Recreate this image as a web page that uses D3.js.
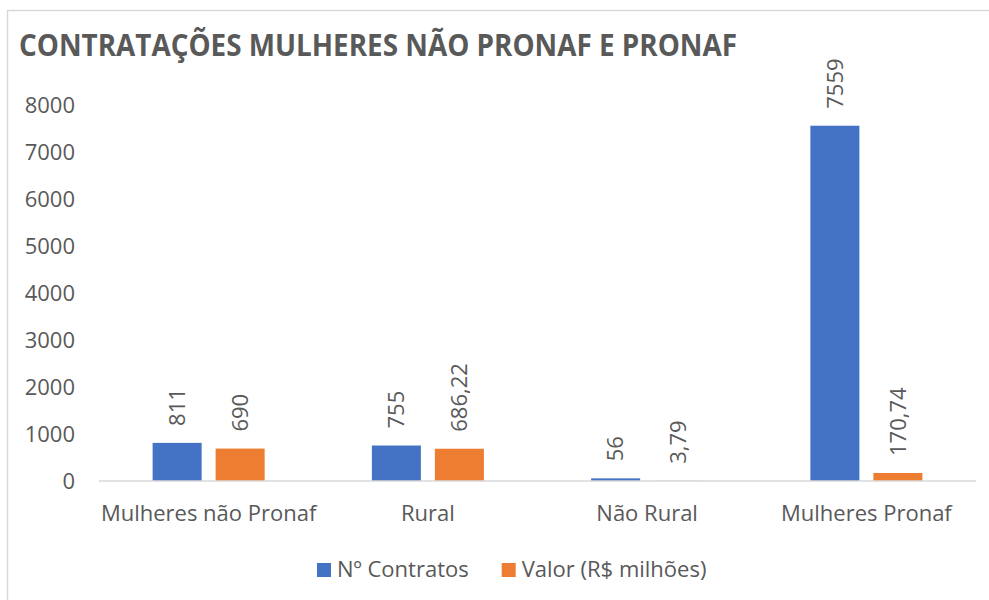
<!DOCTYPE html>
<html lang="pt">
<head>
<meta charset="UTF-8">
<title>Contratações Mulheres Não Pronaf e Pronaf</title>
<script src="https://cdn.jsdelivr.net/npm/d3@7"></script>
<style>
  body { margin: 0; background: #fff; }
  text { font-family: "Open Sans", sans-serif; fill: #595959; }
</style>
</head>
<body>
<div id="container"></div>
<script>
// data
const categories = ["Mulheres não Pronaf", "Rural", "Não Rural", "Mulheres Pronaf"];
const seriesNames = ["Nº Contratos", "Valor (R$ milhões)"];
const contratos = [811, 755, 56, 7559];
const valores = [690, 686.22, 3.79, 170.74];
const yTicks = [0, 1000, 2000, 3000, 4000, 5000, 6000, 7000, 8000];
const colors = ["#4472C4", "#ED7D31"];

const width = 989, height = 600;
const plotLeft = 99, plotRight = 976, plotTop = 105, plotBottom = 481;
const fontSize = "22px";

const svg = d3.select("#container").append("svg")
  .attr("width", width).attr("height", height);

// chart frame
svg.append("path")
  .attr("d", `M7.5,${height} V10.5 H${width}`)
  .attr("fill", "none").attr("stroke", "#D9D9D9").attr("stroke-width", 1.5);

// title
svg.append("text")
  .attr("x", 19).attr("y", 56)
  .attr("textLength", 718).attr("lengthAdjust", "spacingAndGlyphs")
  .style("font-family", "'Liberation Sans Narrow', 'Open Sans', sans-serif")
  .style("font-weight", "bold").style("font-size", "31px")
  .text("CONTRATAÇÕES MULHERES NÃO PRONAF E PRONAF");

const x0 = d3.scaleBand().domain(categories).range([plotLeft, plotRight]);
const x1 = d3.scaleBand().domain(seriesNames).range([0, x0.bandwidth()])
  .paddingInner(0.222).paddingOuter(0.851);
const y = d3.scaleLinear().domain([0, 8000]).range([plotBottom, plotTop]);

// y axis
const yAxis = svg.append("g")
  .attr("transform", `translate(${plotLeft},0)`)
  .call(d3.axisLeft(y).tickValues(yTicks).tickSize(0).tickPadding(24).tickFormat(d3.format("d")));
yAxis.select(".domain").remove();
yAxis.selectAll("text").style("font-size", fontSize).attr("fill", "#595959").attr("dy", "0.35em");

const rows = categories.map((c, i) => ({ cat: c, vals: [contratos[i], valores[i]] }));
const fmt = v => String(v).replace(".", ",");

const groups = svg.selectAll(".grp").data(rows).join("g")
  .attr("transform", d => `translate(${x0(d.cat)},0)`);

groups.selectAll("rect").data(d => d.vals.map((v, j) => ({ s: seriesNames[j], v, j })))
  .join("rect")
  .attr("x", d => x1(d.s))
  .attr("width", x1.bandwidth())
  .attr("y", d => y(d.v))
  .attr("height", d => y(0) - y(d.v))
  .attr("fill", d => colors[d.j]);

groups.selectAll(".lbl").data(d => d.vals.map((v, j) => ({ s: seriesNames[j], v, j })))
  .join("text")
  .attr("class", "lbl")
  .attr("transform", d => `translate(${x1(d.s) + x1.bandwidth() / 2},${y(d.v) - 17}) rotate(-90)`)
  .attr("dy", "0.35em")
  .style("font-size", fontSize)
  .text(d => fmt(d.v));

// baseline
svg.append("line")
  .attr("x1", plotLeft).attr("x2", plotRight)
  .attr("y1", y(0)).attr("y2", y(0))
  .attr("stroke", "#D9D9D9").attr("stroke-width", 1.5);

// category labels
svg.selectAll(".cat").data(categories).join("text")
  .attr("class", "cat")
  .attr("x", d => x0(d) + x0.bandwidth() / 2)
  .attr("y", 521)
  .attr("text-anchor", "middle")
  .style("font-size", fontSize)
  .text(d => d);

// legend
const legend = svg.append("g").attr("transform", "translate(317,0)");
let lx = 0;
seriesNames.forEach((s, i) => {
  legend.append("rect").attr("x", lx).attr("y", 563).attr("width", 14).attr("height", 14)
    .attr("fill", colors[i]);
  const t = legend.append("text").attr("x", lx + 20).attr("y", 577)
    .style("font-size", fontSize).text(s);
  lx += 20 + t.node().getComputedTextLength() + 33;
});
</script>
</body>
</html>
